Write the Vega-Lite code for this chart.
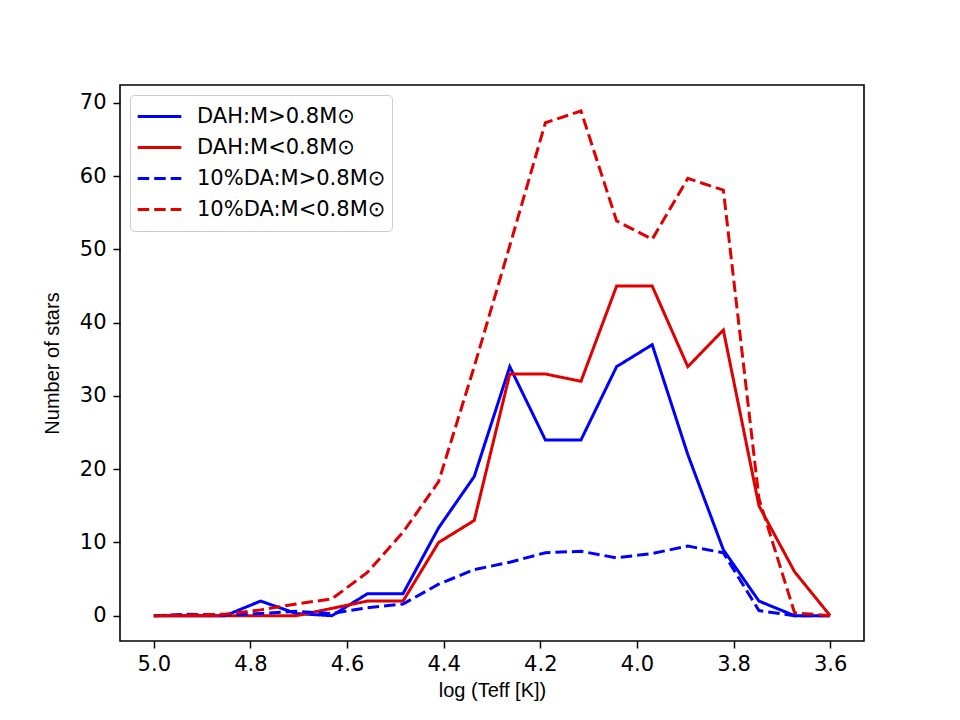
{
  "$schema": "https://vega.github.io/schema/vega-lite/v6.json",
  "width": 744,
  "height": 556,
  "autosize": {"type": "none"},
  "padding": {"left": 120, "top": 85, "right": 96, "bottom": 79},
  "background": "white",
  "datasets": {
    "stars": [
      {"logT": 5.0, "n": 0, "series": "DAH:M>0.8M⊙"},
      {"logT": 4.9263, "n": 0, "series": "DAH:M>0.8M⊙"},
      {"logT": 4.8526, "n": 0, "series": "DAH:M>0.8M⊙"},
      {"logT": 4.7789, "n": 2, "series": "DAH:M>0.8M⊙"},
      {"logT": 4.7053, "n": 0.3, "series": "DAH:M>0.8M⊙"},
      {"logT": 4.6316, "n": 0, "series": "DAH:M>0.8M⊙"},
      {"logT": 4.5579, "n": 3, "series": "DAH:M>0.8M⊙"},
      {"logT": 4.4842, "n": 3, "series": "DAH:M>0.8M⊙"},
      {"logT": 4.4105, "n": 12, "series": "DAH:M>0.8M⊙"},
      {"logT": 4.3368, "n": 19, "series": "DAH:M>0.8M⊙"},
      {"logT": 4.2632, "n": 34, "series": "DAH:M>0.8M⊙"},
      {"logT": 4.1895, "n": 24, "series": "DAH:M>0.8M⊙"},
      {"logT": 4.1158, "n": 24, "series": "DAH:M>0.8M⊙"},
      {"logT": 4.0421, "n": 34, "series": "DAH:M>0.8M⊙"},
      {"logT": 3.9684, "n": 37, "series": "DAH:M>0.8M⊙"},
      {"logT": 3.8947, "n": 22, "series": "DAH:M>0.8M⊙"},
      {"logT": 3.8211, "n": 9, "series": "DAH:M>0.8M⊙"},
      {"logT": 3.7474, "n": 2, "series": "DAH:M>0.8M⊙"},
      {"logT": 3.6737, "n": 0, "series": "DAH:M>0.8M⊙"},
      {"logT": 3.6, "n": 0, "series": "DAH:M>0.8M⊙"},

      {"logT": 5.0, "n": 0, "series": "DAH:M<0.8M⊙"},
      {"logT": 4.9263, "n": 0, "series": "DAH:M<0.8M⊙"},
      {"logT": 4.8526, "n": 0, "series": "DAH:M<0.8M⊙"},
      {"logT": 4.7789, "n": 0, "series": "DAH:M<0.8M⊙"},
      {"logT": 4.7053, "n": 0, "series": "DAH:M<0.8M⊙"},
      {"logT": 4.6316, "n": 1, "series": "DAH:M<0.8M⊙"},
      {"logT": 4.5579, "n": 2, "series": "DAH:M<0.8M⊙"},
      {"logT": 4.4842, "n": 2, "series": "DAH:M<0.8M⊙"},
      {"logT": 4.4105, "n": 10, "series": "DAH:M<0.8M⊙"},
      {"logT": 4.3368, "n": 13, "series": "DAH:M<0.8M⊙"},
      {"logT": 4.2632, "n": 33, "series": "DAH:M<0.8M⊙"},
      {"logT": 4.1895, "n": 33, "series": "DAH:M<0.8M⊙"},
      {"logT": 4.1158, "n": 32, "series": "DAH:M<0.8M⊙"},
      {"logT": 4.0421, "n": 45, "series": "DAH:M<0.8M⊙"},
      {"logT": 3.9684, "n": 45, "series": "DAH:M<0.8M⊙"},
      {"logT": 3.8947, "n": 34, "series": "DAH:M<0.8M⊙"},
      {"logT": 3.8211, "n": 39, "series": "DAH:M<0.8M⊙"},
      {"logT": 3.7474, "n": 15, "series": "DAH:M<0.8M⊙"},
      {"logT": 3.6737, "n": 6, "series": "DAH:M<0.8M⊙"},
      {"logT": 3.6, "n": 0, "series": "DAH:M<0.8M⊙"},

      {"logT": 5.0, "n": 0, "series": "10%DA:M>0.8M⊙"},
      {"logT": 4.9263, "n": 0.2, "series": "10%DA:M>0.8M⊙"},
      {"logT": 4.8526, "n": 0.1, "series": "10%DA:M>0.8M⊙"},
      {"logT": 4.7789, "n": 0.3, "series": "10%DA:M>0.8M⊙"},
      {"logT": 4.7053, "n": 0.6, "series": "10%DA:M>0.8M⊙"},
      {"logT": 4.6316, "n": 0.3, "series": "10%DA:M>0.8M⊙"},
      {"logT": 4.5579, "n": 1.1, "series": "10%DA:M>0.8M⊙"},
      {"logT": 4.4842, "n": 1.6, "series": "10%DA:M>0.8M⊙"},
      {"logT": 4.4105, "n": 4.3, "series": "10%DA:M>0.8M⊙"},
      {"logT": 4.3368, "n": 6.3, "series": "10%DA:M>0.8M⊙"},
      {"logT": 4.2632, "n": 7.3, "series": "10%DA:M>0.8M⊙"},
      {"logT": 4.1895, "n": 8.6, "series": "10%DA:M>0.8M⊙"},
      {"logT": 4.1158, "n": 8.8, "series": "10%DA:M>0.8M⊙"},
      {"logT": 4.0421, "n": 7.9, "series": "10%DA:M>0.8M⊙"},
      {"logT": 3.9684, "n": 8.5, "series": "10%DA:M>0.8M⊙"},
      {"logT": 3.8947, "n": 9.5, "series": "10%DA:M>0.8M⊙"},
      {"logT": 3.8211, "n": 8.6, "series": "10%DA:M>0.8M⊙"},
      {"logT": 3.7474, "n": 0.7, "series": "10%DA:M>0.8M⊙"},
      {"logT": 3.6737, "n": 0, "series": "10%DA:M>0.8M⊙"},
      {"logT": 3.6, "n": 0, "series": "10%DA:M>0.8M⊙"},

      {"logT": 5.0, "n": 0, "series": "10%DA:M<0.8M⊙"},
      {"logT": 4.9263, "n": 0.1, "series": "10%DA:M<0.8M⊙"},
      {"logT": 4.8526, "n": 0.2, "series": "10%DA:M<0.8M⊙"},
      {"logT": 4.7789, "n": 0.8, "series": "10%DA:M<0.8M⊙"},
      {"logT": 4.7053, "n": 1.6, "series": "10%DA:M<0.8M⊙"},
      {"logT": 4.6316, "n": 2.3, "series": "10%DA:M<0.8M⊙"},
      {"logT": 4.5579, "n": 5.9, "series": "10%DA:M<0.8M⊙"},
      {"logT": 4.4842, "n": 11.4, "series": "10%DA:M<0.8M⊙"},
      {"logT": 4.4105, "n": 18.3, "series": "10%DA:M<0.8M⊙"},
      {"logT": 4.3368, "n": 34, "series": "10%DA:M<0.8M⊙"},
      {"logT": 4.2632, "n": 50.5, "series": "10%DA:M<0.8M⊙"},
      {"logT": 4.1895, "n": 67.3, "series": "10%DA:M<0.8M⊙"},
      {"logT": 4.1158, "n": 68.9, "series": "10%DA:M<0.8M⊙"},
      {"logT": 4.0421, "n": 53.9, "series": "10%DA:M<0.8M⊙"},
      {"logT": 3.9684, "n": 51.4, "series": "10%DA:M<0.8M⊙"},
      {"logT": 3.8947, "n": 59.7, "series": "10%DA:M<0.8M⊙"},
      {"logT": 3.8211, "n": 58.1, "series": "10%DA:M<0.8M⊙"},
      {"logT": 3.7474, "n": 16, "series": "10%DA:M<0.8M⊙"},
      {"logT": 3.6737, "n": 0.4, "series": "10%DA:M<0.8M⊙"},
      {"logT": 3.6, "n": 0, "series": "10%DA:M<0.8M⊙"}
    ]
  },
  "data": {"name": "stars"},
  "mark": {"type": "line", "strokeWidth": 3, "clip": true},
  "encoding": {
    "x": {
      "field": "logT",
      "type": "quantitative",
      "scale": {"domain": [3.53, 5.07], "reverse": true, "nice": false, "zero": false},
      "axis": {
        "title": "log (Teff [K])",
        "values": [5.0, 4.8, 4.6, 4.4, 4.2, 4.0, 3.8, 3.6],
        "format": ".1f",
        "grid": false
      }
    },
    "y": {
      "field": "n",
      "type": "quantitative",
      "scale": {"domain": [-3.45, 72.45], "nice": false, "zero": false},
      "axis": {
        "title": "Number of stars",
        "values": [0, 10, 20, 30, 40, 50, 60, 70],
        "grid": false
      }
    },
    "color": {
      "field": "series",
      "type": "nominal",
      "scale": {
        "domain": ["DAH:M>0.8M⊙", "DAH:M<0.8M⊙", "10%DA:M>0.8M⊙", "10%DA:M<0.8M⊙"],
        "range": ["#0000ff", "#e00000", "#0000ff", "#e00000"]
      },
      "legend": {
        "title": null,
        "orient": "top-left",
        "offset": 10,
        "symbolType": "stroke",
        "symbolSize": 1900,
        "symbolStrokeWidth": 3,
        "labelFont": "DejaVu Sans",
        "labelFontSize": 21,
        "labelColor": "black",
        "labelOffset": 14,
        "labelLimit": 500,
        "clipHeight": 31,
        "rowPadding": 0,
        "padding": 6,
        "fillColor": "white",
        "strokeColor": "#cccccc",
        "cornerRadius": 4
      }
    },
    "strokeDash": {
      "field": "series",
      "type": "nominal",
      "scale": {
        "domain": ["DAH:M>0.8M⊙", "DAH:M<0.8M⊙", "10%DA:M>0.8M⊙", "10%DA:M<0.8M⊙"],
        "range": [[1, 0], [1, 0], [11.5, 5], [11.5, 5]]
      }
    },
    "detail": {"field": "series"}
  },
  "config": {
    "view": {"stroke": "black", "strokeWidth": 1.6},
    "axis": {
      "domain": false,
      "ticks": true,
      "tickColor": "black",
      "tickSize": 7,
      "tickWidth": 1.5,
      "labelFont": "DejaVu Sans",
      "labelFontSize": 21,
      "labelColor": "black",
      "labelPadding": 5,
      "titleFont": "Liberation Sans",
      "titleFontSize": 20,
      "titleFontWeight": "normal",
      "titleColor": "black"
    },
    "axisX": {"titlePadding": 6},
    "axisY": {"titlePadding": 17, "labelPadding": 7}
  }
}
